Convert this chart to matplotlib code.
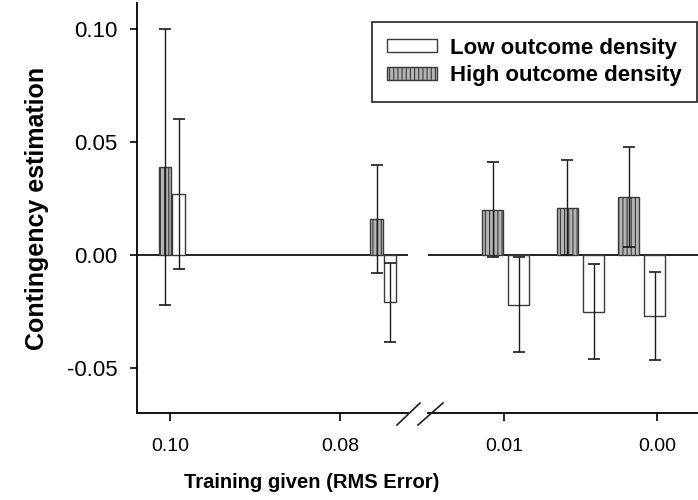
import matplotlib
matplotlib.use('Agg')
import matplotlib.pyplot as plt
from matplotlib.patches import Patch
from matplotlib.lines import Line2D
from matplotlib.ticker import FormatStrFormatter

plt.rcParams['font.family'] = ['Liberation Sans', 'DejaVu Sans']
plt.rcParams['axes.unicode_minus'] = False
plt.rcParams['hatch.color'] = '#6a6a6a'
plt.rcParams['hatch.linewidth'] = 0.8

# training levels (RMS error) - left part of the broken axis and right part
x_left = [0.0998, 0.0749]
x_right = [0.0099, 0.0050, 0.0010]

# contingency estimation, mean and error
high_mean = [0.039, 0.016, 0.020, 0.021, 0.0257]
high_err = [0.061, 0.024, 0.021, 0.021, 0.022]
low_mean = [0.027, -0.021, -0.022, -0.025, -0.027]
low_err = [0.033, 0.0175, 0.021, 0.021, 0.0195]

left_ticks = [0.10, 0.08]
right_ticks = [0.01, 0.00]
y_ticks = [-0.05, 0.00, 0.05, 0.10]

W, H = 698, 500
fig = plt.figure(figsize=(W / 100, H / 100), dpi=100)

def rect(x0, y0, x1, y1):
    # pixel box -> figure fraction
    return [x0 / W, 1 - y1 / H, (x1 - x0) / W, (y1 - y0) / H]

axL = fig.add_axes(rect(137, 3, 408, 413))
axR = fig.add_axes(rect(428, 3, 720, 413), sharey=axL)

high_style = dict(facecolor='#b4b4b4', edgecolor='#3a3a3a', hatch='||||', linewidth=1.0, zorder=2)
low_style = dict(facecolor='white', edgecolor='#3a3a3a', linewidth=1.0, zorder=2)
err_style = dict(fmt='none', ecolor='#1a1a1a', elinewidth=1.0, capsize=4.5, capthick=1.2, zorder=3)

# left part: 0.10 / 0.08
offL, wL = 0.0008, 0.00145
xs_hi = [x + offL for x in x_left]
xs_lo = [x - offL for x in x_left]
axL.bar(xs_hi, high_mean[:2], width=wL, **high_style)
axL.bar(xs_lo, low_mean[:2], width=wL, **low_style)
axL.errorbar(xs_hi, high_mean[:2], yerr=high_err[:2], **err_style)
axL.errorbar(xs_lo, low_mean[:2], yerr=low_err[:2], **err_style)

# right part: 0.01 / 0.00
offR, wR = 0.00085, 0.00135
xs_hi = [x + offR for x in x_right]
xs_lo = [x - offR for x in x_right]
axR.bar(xs_hi, high_mean[2:], width=wR, **high_style)
axR.bar(xs_lo, low_mean[2:], width=wR, **low_style)
axR.errorbar(xs_hi, high_mean[2:], yerr=high_err[2:], **err_style)
axR.errorbar(xs_lo, low_mean[2:], yerr=low_err[2:], **err_style)

axL.set_xlim(0.1039, 0.0720)
axR.set_xlim(0.01497, -0.00412)
axL.set_ylim(-0.0699, 0.1115)

for ax in (axL, axR):
    ax.axhline(0, color='#111111', lw=1.3, zorder=1)
    ax.spines['top'].set_visible(False)
    ax.spines['right'].set_visible(False)
    ax.spines['bottom'].set_linewidth(1.3)
    ax.spines['left'].set_linewidth(1.3)
    ax.tick_params(axis='x', direction='out', length=6, width=1.2, pad=12, labelsize=14)
    ax.xaxis.set_major_formatter(FormatStrFormatter('%.2f'))

axL.set_xticks(left_ticks)
axR.set_xticks(right_ticks)
axL.set_yticks(y_ticks)
axL.yaxis.set_major_formatter(FormatStrFormatter('%.2f'))
axL.tick_params(axis='y', direction='out', length=5, width=1.2, pad=9, labelsize=16)
axR.spines['left'].set_visible(False)
axR.tick_params(axis='y', left=False, labelleft=False)

# axis break marks
for xa, xb in [(397, 420), (418, 443)]:
    fig.add_artist(Line2D([xa / W, xb / W], [1 - 425 / H, 1 - 403 / H], color='#222222', lw=1.2))

fig.text(37 / W, 1 - 208 / H, 'Contingency estimation', rotation=90, ha='center', va='center',
         fontsize=18, fontweight='bold')
fig.text(312 / W, 1 - 488 / H, 'Training given (RMS Error)', ha='center', va='baseline',
         fontsize=14.5, fontweight='bold')

handles = [Patch(facecolor='white', edgecolor='#3a3a3a', linewidth=1.0),
           Patch(facecolor='#b4b4b4', edgecolor='#3a3a3a', hatch='||||', linewidth=1.0)]
leg = fig.legend(handles, ['Low outcome density', 'High outcome density'],
                 loc='upper right', bbox_to_anchor=(697 / W, 1 - 22 / H), bbox_transform=fig.transFigure,
                 borderaxespad=0, fancybox=False, framealpha=1, edgecolor='#222222',
                 prop={'weight': 'bold', 'size': 16}, handlelength=2.25, handleheight=0.55,
                 handletextpad=0.55, labelspacing=0.3, borderpad=0.7)
leg.get_frame().set_linewidth(1.2)

fig.savefig('out.png', dpi=100)
